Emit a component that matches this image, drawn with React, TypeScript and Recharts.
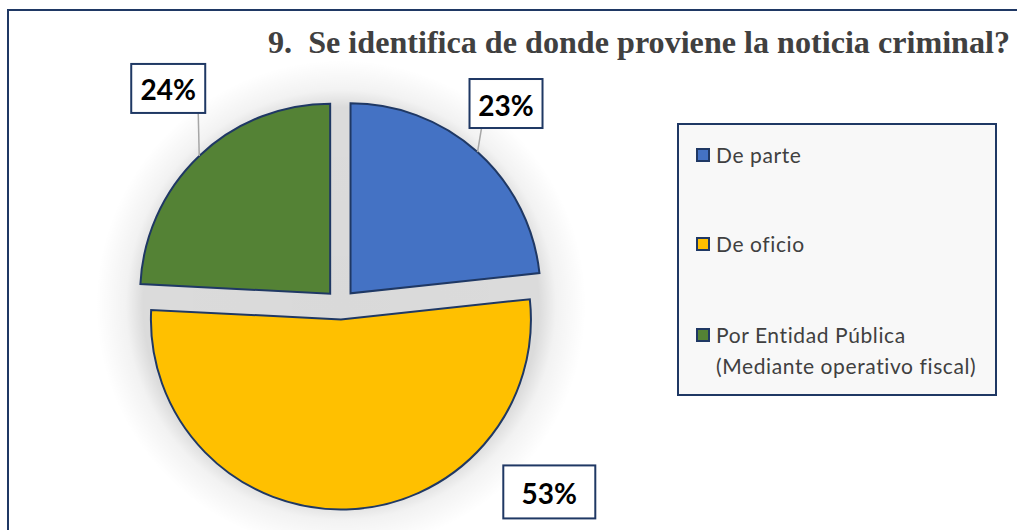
import React from 'react';
import { PieChart, Pie, Cell, Legend } from 'recharts';

const categories = ['De parte', 'De oficio', 'Por Entidad Pública (Mediante operativo fiscal)'];
const values = [23.3, 52.5, 24.2];
const valueLabels = ['23%', '53%', '24%'];
const colors = ['#4472C4', '#FFC000', '#548235'];

const TITLE = '9.  Se identifica de donde proviene la noticia criminal?';

const data = categories.map((name, i) => ({ name, value: values[i], label: valueLabels[i] }));

const CX = 340.5;
const CY = 304.5;
const R = 190;
const EXPLODE = 15;
const RAD = Math.PI / 180;
const NAVY = '#1F3864';
const HALO = 245;

const total = values.reduce((a, b) => a + b, 0);
const offsets = (() => {
  let cum = 0;
  return values.map((v) => {
    const start = 90 - (360 * cum) / total;
    const mid = start - (360 * v) / total / 2;
    cum += v;
    return { dx: EXPLODE * Math.cos(mid * RAD), dy: -EXPLODE * Math.sin(mid * RAD) };
  });
})();

// label box placement relative to the arc point at the slice mid-angle
const labelBoxes = [
  { dx: -8, dy: -73, w: 73, h: 49, line: true, lx: 4 },
  { dx: 157, dy: -44, w: 92, h: 53, line: false, lx: 0 },
  { dx: -68, dy: -92, w: 74, h: 49, line: true, lx: -1 },
];

const makeLabel = (pieIndex: number) => (props: any) => {
  const { cx, cy, midAngle, outerRadius, index } = props;
  if (index !== pieIndex) return null;
  const ax = cx + outerRadius * Math.cos(-midAngle * RAD);
  const ay = cy + outerRadius * Math.sin(-midAngle * RAD);
  const b = labelBoxes[index];
  const left = ax + b.dx;
  const top = ay + b.dy;
  return (
    <g>
      {b.line && (
        <line x1={ax} y1={ay} x2={ax + b.lx} y2={top + b.h} stroke="#A6A6A6" strokeWidth={1.5} />
      )}
      <rect x={left} y={top} width={b.w} height={b.h} fill="#FFFFFF" stroke={NAVY} strokeWidth={2} />
      <text
        x={left + b.w / 2}
        y={top + b.h / 2 + 1}
        textAnchor="middle"
        dominantBaseline="central"
        fontFamily="Lato, 'Open Sans', sans-serif"
        fontWeight={700}
        fontSize={28}
        fill="#000000"
      >
        {data[index].label}
      </text>
    </g>
  );
};

const legendTops = [23, 112, 203];

const LegendBox = () => (
  <div
    style={{
      width: 320,
      height: 273,
      boxSizing: 'border-box',
      border: `2px solid ${NAVY}`,
      background: '#F8F8F8',
      position: 'relative',
      fontFamily: "Lato, 'Open Sans', sans-serif",
      fontSize: 21,
      letterSpacing: 0.6,
      color: '#404040',
    }}
  >
    {data.map((d, i) => (
      <div key={d.name} style={{ position: 'absolute', left: 17, top: legendTops[i] }}>
        <div
          style={{
            position: 'absolute',
            left: 0,
            top: 0,
            width: 14,
            height: 14,
            boxSizing: 'border-box',
            border: `2px solid ${NAVY}`,
            background: colors[i],
          }}
        />
        <div
          style={{
            position: 'absolute',
            left: 20,
            top: -9,
            lineHeight: '31px',
            whiteSpace: 'pre',
          }}
        >
          {d.name.replace(' (', '\n(')}
        </div>
      </div>
    ))}
  </div>
);

export default function App() {
  return (
    <div
      style={{
        position: 'absolute',
        left: 0,
        top: 0,
        width: 1017,
        height: 530,
        overflow: 'hidden',
        background: '#FFFFFF',
      }}
    >
      <div
        style={{
          position: 'absolute',
          left: CX - HALO,
          top: CY - HALO,
          width: HALO * 2,
          height: HALO * 2,
          background: `radial-gradient(circle closest-side, rgba(0,0,0,0.15) 0px, rgba(0,0,0,0.14) ${R + 8}px, rgba(0,0,0,0.05) ${R + 25}px, rgba(0,0,0,0) ${HALO}px)`,
        }}
      />
      <PieChart width={1017} height={530} margin={{ top: 0, right: 0, bottom: 0, left: 0 }}>
        {offsets.map((o, p) => (
          <Pie
            key={p}
            data={data}
            dataKey="value"
            nameKey="name"
            cx={CX + o.dx}
            cy={CY + o.dy}
            outerRadius={R}
            startAngle={90}
            endAngle={-270}
            isAnimationActive={false}
            labelLine={false}
            label={makeLabel(p)}
            legendType="none"
          >
            {data.map((d, i) =>
              i === p ? (
                <Cell key={i} fill={colors[i]} stroke={NAVY} strokeWidth={2} />
              ) : (
                <Cell key={i} fill="none" stroke="none" />
              )
            )}
          </Pie>
        ))}
        <Legend
          layout="vertical"
          align="right"
          verticalAlign="middle"
          content={() => <LegendBox />}
          wrapperStyle={{ left: 677, top: 123, width: 320, height: 273 }}
        />
      </PieChart>
      <svg
        width={1017}
        height={530}
        style={{ position: 'absolute', left: 0, top: 0, pointerEvents: 'none' }}
      >
        <text
          x={268}
          y={53}
          textLength={742}
          lengthAdjust="spacingAndGlyphs"
          fontFamily="'Liberation Serif', 'Times New Roman', serif"
          fontWeight={700}
          fontSize={32}
          fill="#404040"
          style={{ whiteSpace: 'pre' }}
        >
          {TITLE}
        </text>
      </svg>
      <div
        style={{
          position: 'absolute',
          left: 7,
          top: 9,
          width: 1100,
          height: 700,
          borderTop: `2px solid ${NAVY}`,
          borderLeft: `2px solid ${NAVY}`,
          pointerEvents: 'none',
        }}
      />
    </div>
  );
}
